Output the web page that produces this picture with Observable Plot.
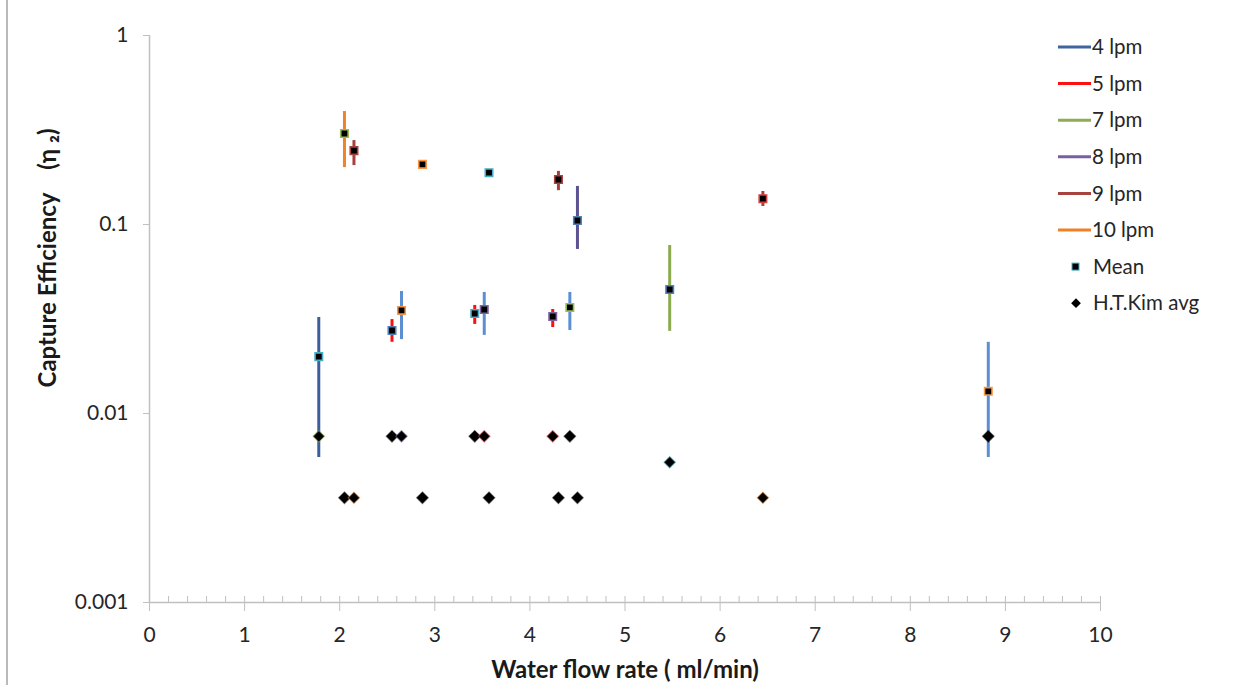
<!DOCTYPE html>
<html>
<head>
<meta charset="utf-8">
<script src="https://cdn.jsdelivr.net/npm/d3@7"></script>
<script src="https://cdn.jsdelivr.net/npm/@observablehq/plot@0.6"></script>
<style>
  html, body { margin: 0; padding: 0; background: #fff; }
  #wrap { position: relative; width: 1249px; height: 685px; overflow: hidden; }
  #overlay { position: absolute; left: 0; top: 0; pointer-events: none; }
</style>
</head>
<body>
<div id="wrap"></div>
<script>
// ---- data ----
const flow    = [1.78, 2.05, 2.15, 2.55, 2.65, 2.87, 3.42, 3.52, 3.57, 4.24, 4.30, 4.42, 4.50, 5.47, 6.45, 8.82];
const mean    = [0.0200, 0.303, 0.246, 0.0275, 0.0351, 0.208, 0.0338, 0.0355, 0.188, 0.0326, 0.173, 0.0364, 0.105, 0.0453, 0.137, 0.0131];
const errLow  = [0.00585, 0.200, 0.205, 0.0238, 0.0246, 0.204, 0.0296, 0.0259, 0.183, 0.0285, 0.151, 0.0275, 0.0738, 0.0272, 0.1245, 0.00585];
const errHigh = [0.0322, 0.396, 0.278, 0.0314, 0.0442, 0.212, 0.0373, 0.0437, 0.195, 0.0355, 0.191, 0.0437, 0.159, 0.0774, 0.1495, 0.0238];
const barSeries = ["4 lpm", "10 lpm", "9 lpm", "5 lpm", "4 lpm (b)", "10 lpm", "5 lpm", "4 lpm (b)", "4 lpm (b)", "5 lpm", "9 lpm", "4 lpm (b)", "8 lpm", "7 lpm", "9 lpm", "4 lpm (b)"];
const meanEdge  = ["cyan", "green", "darkred", "blue", "orange", "orange", "cyan", "purple", "cyan", "purple", "darkred", "green", "blue", "blue", "red", "orange"];

const kimFlow = [1.78, 2.55, 2.65, 3.42, 3.52, 4.24, 4.42, 8.82, 2.05, 2.15, 2.87, 3.57, 4.30, 4.50, 6.45, 5.47];
const kimAvg  = [0.00757, 0.00757, 0.00757, 0.00757, 0.00757, 0.00757, 0.00757, 0.00757, 0.00358, 0.00358, 0.00358, 0.00358, 0.00358, 0.00358, 0.00358, 0.00552];
const kimEdge = ["green", "black", "purple", "black", "red", "red", "black", "black", "black", "orange", "black", "black", "black", "black", "orange", "cyan"];

const legendSeries = ["4 lpm", "5 lpm", "7 lpm", "8 lpm", "9 lpm", "10 lpm"];
const xTicks = [0, 1, 2, 3, 4, 5, 6, 7, 8, 9, 10];
const yTicks = [0.001, 0.01, 0.1, 1];

// ---- styles ----
const seriesColor = {
  "4 lpm": "#3b5f9e", "4 lpm (b)": "#5b8fd2", "5 lpm": "#ff1010", "7 lpm": "#8cab4e",
  "8 lpm": "#5d5290", "9 lpm": "#a8403e", "10 lpm": "#f0822a"
};
const legendColor = {
  "4 lpm": "#3f64a0", "5 lpm": "#ff1010", "7 lpm": "#8fab55",
  "8 lpm": "#7a5fa0", "9 lpm": "#a8423f", "10 lpm": "#f08026"
};
const edgeColor = {
  cyan: "#4bacc6", green: "#9bbb59", darkred: "#a8403e", blue: "#4f81bd",
  orange: "#f79646", purple: "#8064a2", red: "#d04040", black: "#000"
};

const points = flow.map((f, i) => ({x: f, y: mean[i], lo: errLow[i], hi: errHigh[i], s: barSeries[i], e: meanEdge[i]}));
const kim = kimFlow.map((f, i) => ({x: f, y: kimAvg[i], e: kimEdge[i]}));
const minor = d3.range(0, 50).map(i => i / 5).filter(v => !Number.isInteger(v));

const FONT = "Lato, 'Open Sans', sans-serif";
const AX = "#c0c0c0";
const NB = "\u00a0";

const chart = Plot.plot({
  width: 1249,
  height: 685,
  marginLeft: 149,
  marginRight: 149,
  marginTop: 35,
  marginBottom: 83,
  style: {fontFamily: FONT, fontSize: "21px", color: "#262626", background: "#fff"},
  x: {domain: [0, 10]},
  y: {type: "log", domain: [0.001, 1]},
  marks: [
    Plot.ruleX([0], {stroke: AX, strokeWidth: 1.5}),
    Plot.ruleY([0.001], {stroke: AX, strokeWidth: 1.5}),
    Plot.axisY({ticks: yTicks, tickSize: 6, tickPadding: 15, stroke: AX, tickFormat: d => String(d), label: null, fontSize: 21}),
    Plot.axisX({ticks: minor, tickSize: 6, insetBottom: 6, stroke: AX, fill: "none", label: null}),
    Plot.axisX({ticks: xTicks, tickSize: 15, insetBottom: 6, stroke: AX, fill: "none", label: null}),
    Plot.axisX({ticks: xTicks, tickSize: 0, tickPadding: 25, tickFormat: d => String(d), label: null, fontSize: 21}),
    Plot.ruleX(points, {x: "x", y1: "lo", y2: "hi", stroke: d => seriesColor[d.s], strokeWidth: 3}),
    Plot.dot(points, {x: "x", y: "y", symbol: "square", r: 4.2, fill: "#000", stroke: d => edgeColor[d.e], strokeWidth: 1.6}),
    Plot.dot(kim, {x: "x", y: "y", symbol: "diamond2", r: 5.2, fill: "#000", stroke: d => edgeColor[d.e], strokeOpacity: 0.5, strokeWidth: 1.2}),
    Plot.text(["Water flow rate ( ml/min)"], {text: d => d, frameAnchor: "bottom", textAnchor: "middle", dy: 68, lineAnchor: "middle", fontWeight: "bold", fontSize: 24, fill: "#1a1a1a"}),
    Plot.text([`Capture Efficiency${NB}${NB}${NB}${NB}(η${NB}\u2082)`], {text: d => d, frameAnchor: "left", textAnchor: "middle", rotate: -90, dx: -101, dy: -61, lineAnchor: "middle", fontWeight: "bold", fontSize: 24, fill: "#1a1a1a"})
  ]
});
const wrap = document.getElementById("wrap");
wrap.appendChild(chart);

// ---- legend overlay ----
const ov = d3.select(wrap).append("svg").attr("id", "overlay").attr("width", 1249).attr("height", 685)
  .style("font-family", FONT).style("font-size", "20.5px");
ov.append("line").attr("x1", 7).attr("x2", 7).attr("y1", 0).attr("y2", 685).attr("stroke", "#8c8c8c").attr("stroke-width", 1.2);
const rowY = i => 47 + i * 36.6;
legendSeries.forEach((s, i) => {
  ov.append("line").attr("x1", 1058).attr("x2", 1091).attr("y1", rowY(i)).attr("y2", rowY(i))
    .attr("stroke", legendColor[s]).attr("stroke-width", 3);
  ov.append("text").attr("x", 1092).attr("y", rowY(i)).attr("dy", "0.35em").attr("fill", "#262626").text(s);
});
ov.append("rect").attr("x", 1072).attr("y", rowY(6) - 3.5).attr("width", 7).attr("height", 7)
  .attr("fill", "#000").attr("stroke", "#4bacc6").attr("stroke-width", 1);
ov.append("text").attr("x", 1093).attr("y", rowY(6)).attr("dy", "0.35em").attr("fill", "#262626").text("Mean");
ov.append("path").attr("d", d3.symbol(d3.symbolDiamond2, 60)()).attr("transform", `translate(1076,${rowY(7)})`).attr("fill", "#000");
ov.append("text").attr("x", 1093).attr("y", rowY(7)).attr("dy", "0.35em").attr("fill", "#262626").text("H.T.Kim avg");
</script>
</body>
</html>
